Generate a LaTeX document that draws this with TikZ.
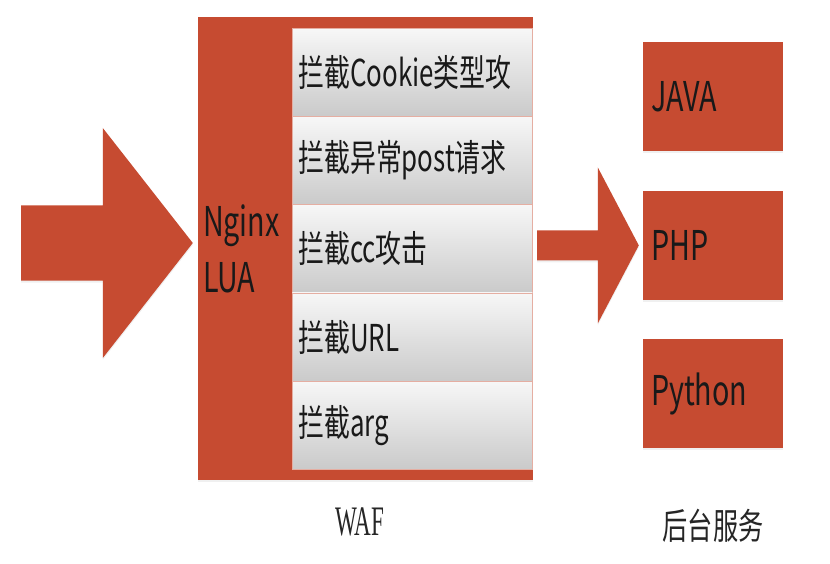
\documentclass[tikz,border=0pt]{standalone}
\usepackage{fontspec}
\usetikzlibrary{positioning, calc, shadows}
\newfontfamily\slidefont[FakeStretch=0.7]{Noto Sans CJK SC}
\newfontfamily\captionserif[FakeStretch=0.55]{Liberation Serif}
\definecolor{colour_brick}{HTML}{C64B31}
\definecolor{colour_row_top}{HTML}{F7F7F7}
\definecolor{colour_row_bottom}{HTML}{CACACA}
\colorlet{colour_row_edge}{colour_brick!45}

\begin{document}
\begin{tikzpicture}
   [
      x=1pt, y=-1pt,
      block/.style={fill=colour_brick, draw=none, drop shadow={opacity=0.12, shadow xshift=0pt, shadow yshift=-2pt}},
      service/.style={block, minimum width=140pt, minimum height=109pt, text width=124pt, inner sep=8pt, align=left, text=black!90, font=\slidefont\fontsize{41}{48}\selectfont},
      filter row/.style={draw=colour_row_edge, line width=0.6pt, top color=colour_row_top, bottom color=colour_row_bottom, anchor=north west, minimum width=240pt, minimum height=88.2pt, text width=228pt, inner sep=6pt, align=left, text=black!90, font=\slidefont\fontsize{37}{44}\selectfont},
      caption/.style={inner sep=0pt, text=black!85},
      node distance=39pt % gap between the service boxes
   ]

   \useasboundingbox (0,0) rectangle (830,564);

   % =======================================================
   % WAF: Nginx + LUA with its filter rows
   % =======================================================

   \node[block, minimum width=335pt, minimum height=463pt] (waf) at (365.5,248.5) {};
   \node[anchor=west, align=left, inner sep=0pt, text=black!90, font=\slidefont\fontsize{41}{56}\selectfont] (nginx) at ($(waf.west)+(5,0)$) {Nginx\\LUA};

   % five stacked rows
   \foreach \rowtext [count=\i] in {拦截Cookie类型攻, 拦截异常post请求, 拦截cc攻击, 拦截URL, 拦截arg}
      \node[filter row] (row\i) at (292, {28+(\i-1)*88.2}) {\rowtext};

   \node[caption, below=27pt of waf, xshift=-6pt, font=\captionserif\fontsize{42}{48}\selectfont] (waf_label) {WAF};

   % =======================================================
   % Back-end services
   % =======================================================

   \node[service] (java) at (713,97) {JAVA};
   \node[service, below=of java] (php) {PHP};
   \node[service, below=of php] (python) {Python};

   \node[caption, below=60pt of python, font=\slidefont\fontsize{36}{42}\selectfont] (backend_label) {后台服务};

   % =======================================================
   % Block arrows
   % =======================================================

   % request into the WAF
   \coordinate (in_tail) at (21,243);
   \coordinate (in_tip) at ($(waf.west |- in_tail)+(-5,0)$);
   \fill[block] ($(in_tail)+(0,-37.5)$) -- ($(in_tip)+(-90,-37.5)$) -- ($(in_tip)+(-90,-115)$) -- (in_tip)
      -- ($(in_tip)+(-90,115)$) -- ($(in_tip)+(-90,37.5)$) -- ($(in_tail)+(0,37.5)$) -- cycle;

   % WAF to the services
   \coordinate (out_tail) at ($(waf.east |- php.west)+(4,0)$);
   \coordinate (out_tip) at ($(php.west)+(-4,0)$);
   \fill[block] ($(out_tail)+(0,-15)$) -- ($(out_tip)+(-41,-15)$) -- ($(out_tip)+(-41,-78)$) -- (out_tip)
      -- ($(out_tip)+(-41,78)$) -- ($(out_tip)+(-41,15)$) -- ($(out_tail)+(0,15)$) -- cycle;

\end{tikzpicture}
\end{document}
